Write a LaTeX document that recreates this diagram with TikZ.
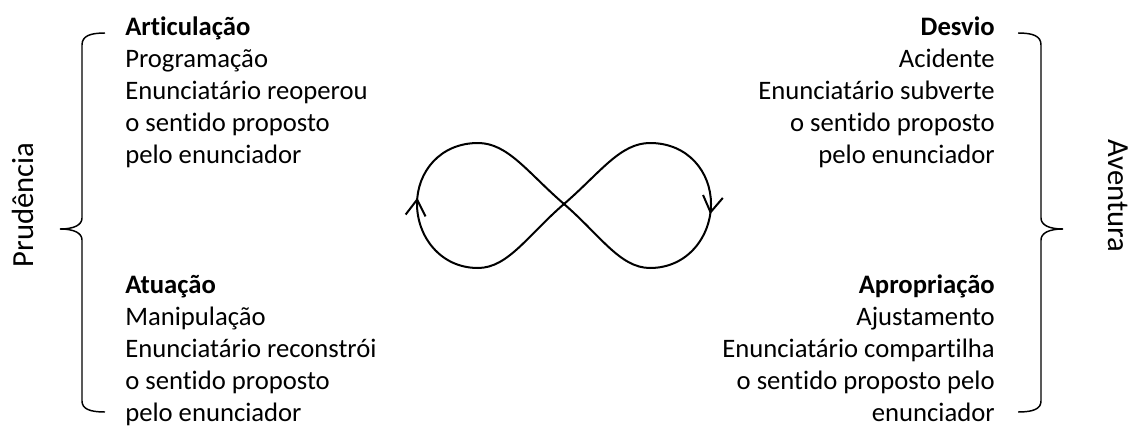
\documentclass[tikz,border=0pt]{standalone}
\usepackage{fontspec}
\setmainfont[Ligatures=NoCommon]{Carlito}
\usetikzlibrary{arrows.meta,decorations.markings}

\begin{document}
\begin{tikzpicture}[
    x=0.75pt, y=-0.75pt,
    brace width/.store in=\bwidth, brace width=1.1pt,
    loop width/.store in=\lwidth, loop width=1.5pt,
    block/.style={inner sep=0pt, font=\fontsize{20}{24}\selectfont},
    side label/.style={inner sep=0pt, font=\fontsize{23}{28}\selectfont},
    loop line/.style={line width=\lwidth},
    loop arrow/.style={postaction={decorate}, decoration={markings,
        mark=at position 0.52 with {\arrow[line width=\lwidth]{Straight Barb[length=12pt,width=15pt]}}}}
]
\useasboundingbox (0,0) rectangle (1134,428);

% Helper macro for a side brace
\newcommand{\sidebrace}[2]{% x, direction (1 opens right, -1 opens left)
    \draw[line width=\bwidth] (#1+23*#2,33) .. controls (#1+8*#2,33) and (#1,36) .. (#1,45)
        -- (#1,218) .. controls (#1,225) and (#1-8*#2,229) .. (#1-22*#2,229)
        .. controls (#1-8*#2,229) and (#1,233) .. (#1,240)
        -- (#1,401) .. controls (#1,409) and (#1+8*#2,412) .. (#1+23*#2,412);
}

% Left side: Prudencia
\sidebrace{82}{1}
\node[side label, rotate=90, anchor=base] (prudencia) at (33,205) {Prudência};

% Right side: Aventura
\sidebrace{1041}{-1}
\node[side label, rotate=-90, anchor=base] (aventura) at (1108,196) {Aventura};

% Text blocks
\node[block, anchor=north west, align=left] (articulacao) at (125,12.6)
    {\strut\textbf{Articulação}\\Programação\\Enunciatário reoperou\\o sentido proposto\\pelo enunciador};
\node[block, anchor=north east, align=right] (desvio) at (995,12.6)
    {\strut\textbf{Desvio}\\Acidente\\Enunciatário subverte\\o sentido proposto\\pelo enunciador};
\node[block, anchor=north west, align=left] (atuacao) at (125,270.6)
    {\strut\textbf{Atuação}\\Manipulação\\Enunciatário reconstrói\\o sentido proposto\\pelo enunciador};
\node[block, anchor=north east, align=right] (apropriacao) at (995,270.6)
    {\strut\textbf{Apropriação}\\Ajustamento\\Enunciatário compartilha\\o sentido proposto pelo\\enunciador};

% Figure eight
\coordinate (cross) at (564,204);
% Right loop
\draw[loop line, loop arrow] (cross) .. controls (600,173) and (620,143) .. (650,143)
    .. controls (688,143) and (711,172) .. (711,204)
    .. controls (711,236) and (688,268) .. (650,268)
    .. controls (620,268) and (600,235) .. (cross);
% Left loop
\draw[loop line, loop arrow] (cross) .. controls (528,235) and (508,268) .. (478,268)
    .. controls (440,268) and (417,236) .. (417,204)
    .. controls (417,172) and (440,143) .. (478,143)
    .. controls (508,143) and (528,173) .. (cross);

\end{tikzpicture}
\end{document}
